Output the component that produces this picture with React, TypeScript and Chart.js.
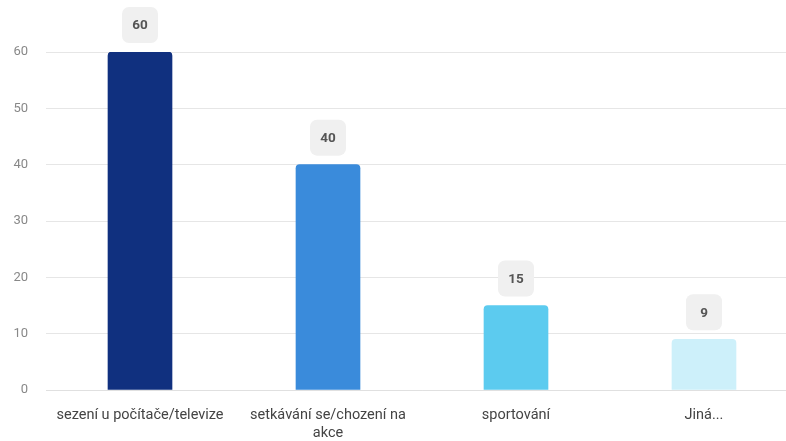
import React, { useEffect, useRef } from "react";
import { Chart, registerables } from "chart.js";

Chart.register(...registerables);

const categories: (string | string[])[] = [
  "sezení u počítače/televize",
  ["setkávání se/chození na", "akce"],
  "sportování",
  "Jiná...",
];
const values = [60, 40, 15, 9];
const barColors = ["#10307f", "#3a8bdb", "#5ccbef", "#cdf0fa"];
const yTicks = [0, 10, 20, 30, 40, 50, 60];

const FONT = "Roboto, 'Noto Sans', sans-serif";

const valueBoxPlugin = {
  id: "valueBox",
  afterDatasetsDraw(chart: any) {
    const ctx = chart.ctx;
    const meta = chart.getDatasetMeta(0);
    meta.data.forEach((bar: any, i: number) => {
      const w = 36;
      const h = 36;
      const x = bar.x - w / 2;
      const y = bar.y - 9 - h;
      ctx.save();
      ctx.fillStyle = "#f0f0f0";
      ctx.beginPath();
      (ctx as any).roundRect(x, y, w, h, 7);
      ctx.fill();
      ctx.fillStyle = "#555555";
      ctx.font = `bold 13.5px ${FONT}`;
      ctx.textAlign = "center";
      ctx.textBaseline = "middle";
      ctx.fillText(String(values[i]), bar.x, y + h / 2 + 1);
      ctx.restore();
    });
  },
};

export default function App() {
  const ref = useRef<HTMLCanvasElement>(null);
  useEffect(() => {
    document.body.style.margin = "0";
    const chart = new Chart(ref.current!, {
      type: "bar",
      data: {
        labels: categories,
        datasets: [
          {
            data: values,
            backgroundColor: barColors,
            borderRadius: 4,
            barThickness: 64,
          },
        ],
      },
      plugins: [valueBoxPlugin],
      options: {
        animation: false,
        responsive: true,
        maintainAspectRatio: false,
        layout: { padding: { top: 52, right: 2, left: 0, bottom: 0 } },
        plugins: { legend: { display: false }, tooltip: { enabled: false } },
        scales: {
          x: {
            grid: { display: false, drawTicks: false },
            border: { display: true, color: "#e0e0e0" },
            ticks: {
              color: "#444444",
              font: { family: FONT, size: 14.5, lineHeight: 1.25 },
              padding: 16,
              maxRotation: 0,
              autoSkip: false,
            },
            afterFit: (scale: any) => {
              scale.height = 51;
            },
          },
          y: {
            min: 0,
            max: 60,
            grid: { color: "#e6e6e6", drawTicks: false },
            border: { display: false },
            afterBuildTicks: (scale: any) => {
              scale.ticks = yTicks.map((v) => ({ value: v }));
            },
            ticks: {
              color: "#888888",
              font: { family: FONT, size: 13 },
              padding: 18,
            },
            afterFit: (scale: any) => {
              scale.width = 46;
            },
          },
        },
      },
    });
    return () => chart.destroy();
  }, []);
  return (
    <div style={{ position: "absolute", left: 0, top: 0, width: 800, height: 441 }}>
      <canvas ref={ref} />
    </div>
  );
}
